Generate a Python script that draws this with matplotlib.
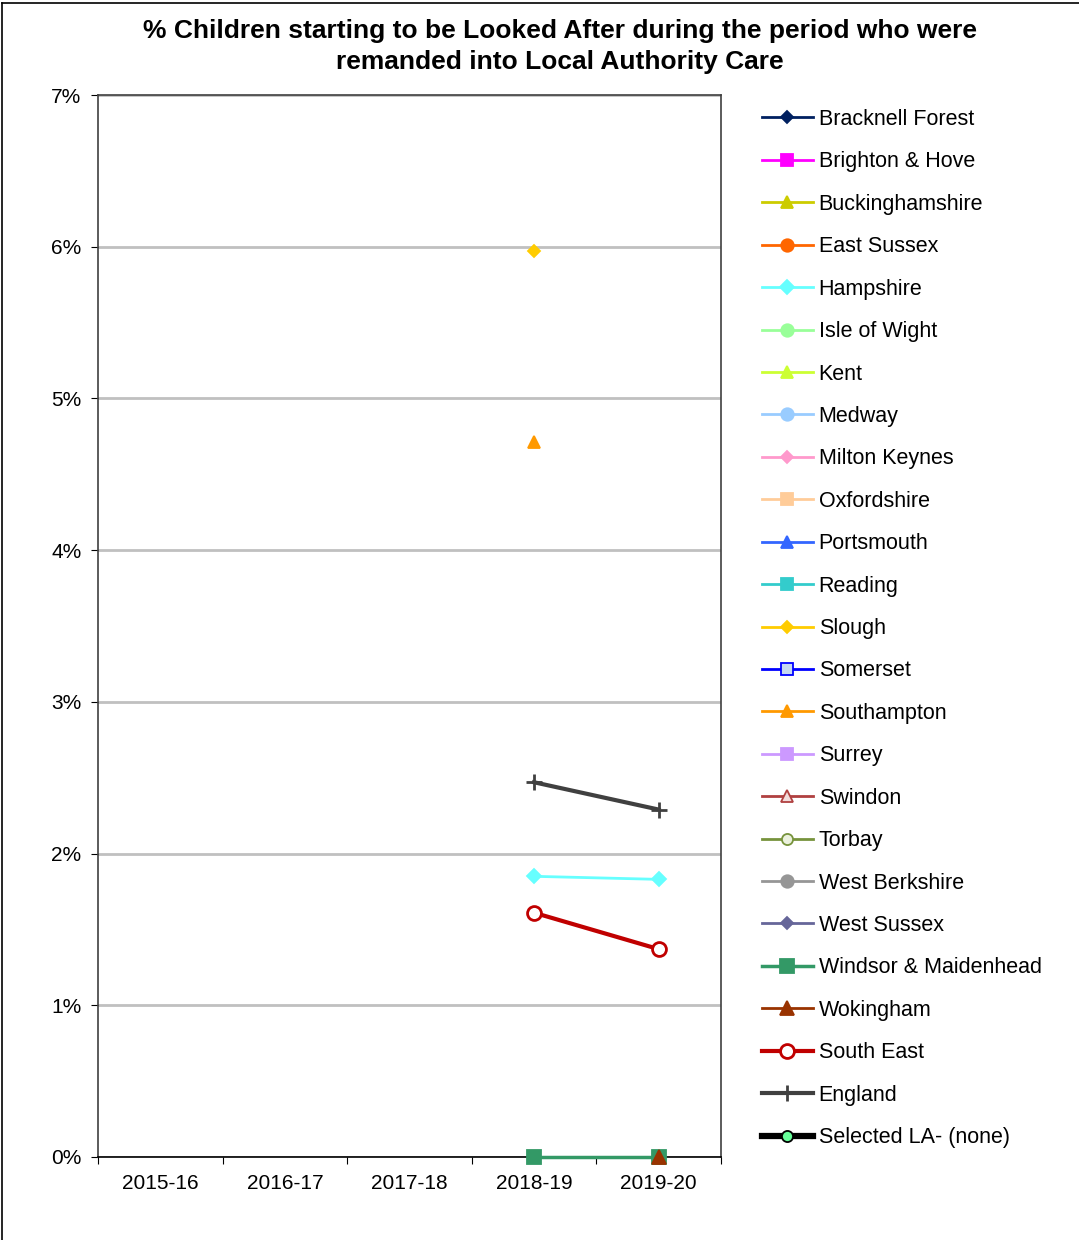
import numpy as np
import matplotlib.pyplot as plt
from matplotlib.lines import Line2D

plt.rcParams['font.family'] = ['Liberation Sans', 'DejaVu Sans']

years = ["2015-16", "2016-17", "2017-18", "2018-19", "2019-20"]
nan = np.nan

# values in %
names = ["Bracknell Forest", "Brighton & Hove", "Buckinghamshire", "East Sussex",
         "Hampshire", "Isle of Wight", "Kent", "Medway", "Milton Keynes",
         "Oxfordshire", "Portsmouth", "Reading", "Slough", "Somerset",
         "Southampton", "Surrey", "Swindon", "Torbay", "West Berkshire",
         "West Sussex", "Windsor & Maidenhead", "Wokingham", "South East",
         "England", "Selected LA- (none)"]
hampshire = [nan, nan, nan, 1.85, 1.83]
slough = [nan, nan, nan, 5.97, nan]
southampton = [nan, nan, nan, 4.71, nan]
windsor = [nan, nan, nan, 0.0, 0.0]
wokingham = [nan, nan, nan, nan, 0.0]
south_east = [nan, nan, nan, 1.61, 1.37]
england = [nan, nan, nan, 2.47, 2.29]
empty = [nan] * 5

data = {
    "Hampshire": hampshire,
    "Slough": slough,
    "Southampton": southampton,
    "Windsor & Maidenhead": windsor,
    "Wokingham": wokingham,
    "South East": south_east,
    "England": england,
}

# style: colour, marker, marker face, line width, marker size
styles = {
    "Bracknell Forest": ("#002060", "D", None, 2, 6),
    "Brighton & Hove": ("#FF00FF", "s", None, 2, 8),
    "Buckinghamshire": ("#CCCC00", "^", None, 2, 8),
    "East Sussex": ("#FF6600", "o", None, 2, 9),
    "Hampshire": ("#66FFFF", "D", None, 2, 7),
    "Isle of Wight": ("#99FF99", "o", None, 2, 9),
    "Kent": ("#CCFF33", "^", None, 2, 8),
    "Medway": ("#99CCFF", "o", None, 2, 9),
    "Milton Keynes": ("#FF99CC", "D", None, 2, 6),
    "Oxfordshire": ("#FFCC99", "s", None, 2, 9),
    "Portsmouth": ("#3366FF", "^", None, 2, 8),
    "Reading": ("#33CCCC", "s", None, 2, 8),
    "Slough": ("#FFCC00", "D", None, 2, 6.5),
    "Somerset": ("#0000FF", "s", "#C6D9F1", 2, 8),
    "Southampton": ("#FF9900", "^", None, 2, 9),
    "Surrey": ("#CC99FF", "s", None, 2, 9),
    "Swindon": ("#B04040", "^", "#F2DCDB", 2, 8),
    "Torbay": ("#77933C", "o", "#EBF1DE", 2, 8),
    "West Berkshire": ("#969696", "o", None, 2, 9),
    "West Sussex": ("#666699", "D", None, 2, 6),
    "Windsor & Maidenhead": ("#339966", "s", None, 2.5, 10),
    "Wokingham": ("#993300", "^", None, 2, 10),
    "South East": ("#C00000", "o", "white", 3, 10),
    "England": ("#404040", "+", None, 3, 12),
    "Selected LA- (none)": ("black", "o", "#66FF99", 4.5, 8),
}

fig = plt.figure(figsize=(10.79, 12.40), dpi=100)
ax = fig.add_axes([98/1079, 1 - 1157/1240, (721-98)/1079, (1157-95)/1240])

x = np.arange(len(years))
handles = []
for n in names:
    c, m, face, lw, ms = styles[n]
    y = data.get(n, empty)
    if face is None:
        face = c
    mew = 2 if m in ("+",) else (2 if n in ("South East",) else 1.3)
    mec = "black" if n.startswith("Selected") else c
    ln, = ax.plot(x, y, color=c, marker=m, markerfacecolor=face,
                  markeredgecolor=mec, markeredgewidth=mew, lw=lw, ms=ms,
                  label=n, clip_on=False, zorder=3)
    handles.append(ln)

ax.set_xlim(-0.5, 4.5)
ax.set_ylim(0, 7)
ax.set_yticks(range(8))
ax.set_yticklabels([f"{i}%" for i in range(8)], fontsize=15)
ax.set_xticks(np.arange(-0.5, 5, 1))
ax.set_xticklabels([])
ax.set_xticks(x, minor=True)
ax.set_xticklabels(years, minor=True, fontsize=15)
ax.tick_params(axis="x", which="minor", length=0, pad=12)
ax.tick_params(axis="x", which="major", length=5, direction="out")
ax.tick_params(axis="y", length=5, direction="out", pad=7)
ax.yaxis.grid(True, color="#C0C0C0", lw=2)
ax.set_axisbelow(True)
for s in ax.spines.values():
    s.set_color("#404040")
    s.set_linewidth(1.2)
ax.spines["bottom"].set_color("black")

fig.text(560/1079, 1 - 31/1240,
         "% Children starting to be Looked After during the period who were",
         ha="center", va="center", fontsize=19, fontweight="bold")
fig.text(560/1079, 1 - 62/1240, "remanded into Local Authority Care",
         ha="center", va="center", fontsize=19, fontweight="bold")

fig.legend(handles=handles, loc="upper left", bbox_to_anchor=(762/1079, 1 - 109/1240),
           frameon=False, fontsize=15.5, handlelength=2.35, handletextpad=0.28,
           borderpad=0, borderaxespad=0, labelspacing=0.995, numpoints=1)

# outer chart border
fig.add_artist(Line2D([2/1079, 2/1079], [0, 1 - 3/1240], color="black", lw=1.2))
fig.add_artist(Line2D([2/1079, 1], [1 - 3/1240, 1 - 3/1240], color="black", lw=1.2))

fig.savefig("out.png", dpi=100)
